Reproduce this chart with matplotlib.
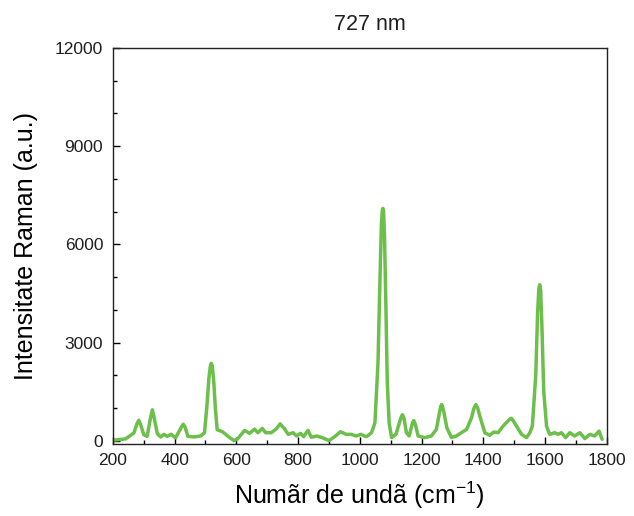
import matplotlib
matplotlib.use("Agg")
import matplotlib.pyplot as plt
from matplotlib.ticker import MultipleLocator

plt.rcParams['font.family'] = ['Liberation Sans', 'DejaVu Sans']
plt.rcParams['mathtext.default'] = 'regular'
plt.rcParams['text.color'] = '#1e1e1e'
plt.rcParams['xtick.labelcolor'] = '#1e1e1e'
plt.rcParams['ytick.labelcolor'] = '#1e1e1e'

wavenumber = [200, 241, 268, 278, 284, 290, 300, 311, 322, 328, 334, 344, 355, 365, 376, 389, 403,
              422, 428, 434, 443, 463, 484, 497, 505, 511, 516, 519, 522, 527, 532, 538, 555, 576,
              592, 603, 627, 643, 659, 670, 684, 695, 713, 729, 742, 757, 768, 784, 795, 808,
              818, 832, 843, 861, 881, 900, 919, 937, 956, 972, 988, 1004, 1015,
              1022, 1038, 1049, 1059, 1066, 1070, 1073, 1075, 1077, 1080, 1084, 1089, 1095, 1103,
              1117, 1133, 1138, 1143, 1151, 1160, 1171, 1175, 1180, 1189, 1211, 1232, 1248, 1257,
              1262, 1265, 1268, 1273, 1282, 1297, 1313, 1329, 1346, 1362, 1370, 1376, 1382, 1389,
              1405, 1421, 1434, 1448, 1464, 1485, 1491, 1497, 1508, 1524, 1540, 1551, 1559, 1570,
              1576, 1580, 1583, 1586, 1590, 1596, 1605, 1615, 1632, 1642, 1653, 1667, 1680, 1696,
              1713, 1729, 1745, 1761, 1775, 1785]
intensity = [20, 60, 240, 520, 630, 500, 190, 140, 700, 950, 700, 220, 120, 200, 140, 200, 90,
             420, 510, 420, 140, 120, 150, 250, 1100, 1900, 2300, 2370, 2300, 1800, 1000, 340, 280, 120,
             10, 50, 320, 230, 360, 250, 380, 250, 250, 360, 520, 360, 200, 250, 150, 230,
             130, 320, 110, 150, 90, 10, 130, 280, 200, 200, 150, 200, 150,
             130, 250, 550, 2400, 5200, 6600, 7050, 7100, 7000, 6300, 4400, 1800, 550, 100,
             200, 700, 800, 700, 250, 150, 560, 620, 500, 150, 100, 150, 350, 800,
             1050, 1110, 1050, 850, 400, 100, 150, 250, 350, 710, 1000, 1110, 1000, 755,
             250, 170, 270, 250, 450, 660, 690, 620, 450, 200, 100, 250, 450, 2000,
             3900, 4650, 4770, 4600, 3500, 1500, 450, 200, 250, 200, 250, 100, 250, 150,
             250, 70, 200, 150, 300, 50]

x_ticks = [200, 400, 600, 800, 1000, 1200, 1400, 1600, 1800]
y_ticks = [0, 3000, 6000, 9000, 12000]

fig = plt.figure(figsize=(6.34, 5.16), dpi=100)
ax = fig.add_axes([0.178, 0.1405, 0.779, 0.7665])
ax.plot(wavenumber, intensity, color='#6cbf4a', lw=2.5, solid_joinstyle='round',
        solid_capstyle='round')

ax.set_xlim(200, 1800)
ax.set_ylim(-80, 12000)
ax.set_xticks(x_ticks)
ax.set_yticks(y_ticks)
ax.xaxis.set_minor_locator(MultipleLocator(100))
ax.yaxis.set_minor_locator(MultipleLocator(1000))
ax.tick_params(which='both', direction='in', top=False, right=False, labelsize=12.5, width=1.0)
ax.tick_params(which='major', length=5, pad=7)
ax.tick_params(which='minor', length=3)
for s in ax.spines.values():
    s.set_linewidth(1.0)
    s.set_color('#222222')

ax.set_xlabel('Numãr de undã (cm$^{-1}$)', fontsize=18, labelpad=8)
ax.set_ylabel('Intensitate Raman (a.u.)', fontsize=18, labelpad=12)
ax.set_title('727 nm', fontsize=15.5, pad=13, x=0.52)

fig.savefig('out.png', dpi=100)
